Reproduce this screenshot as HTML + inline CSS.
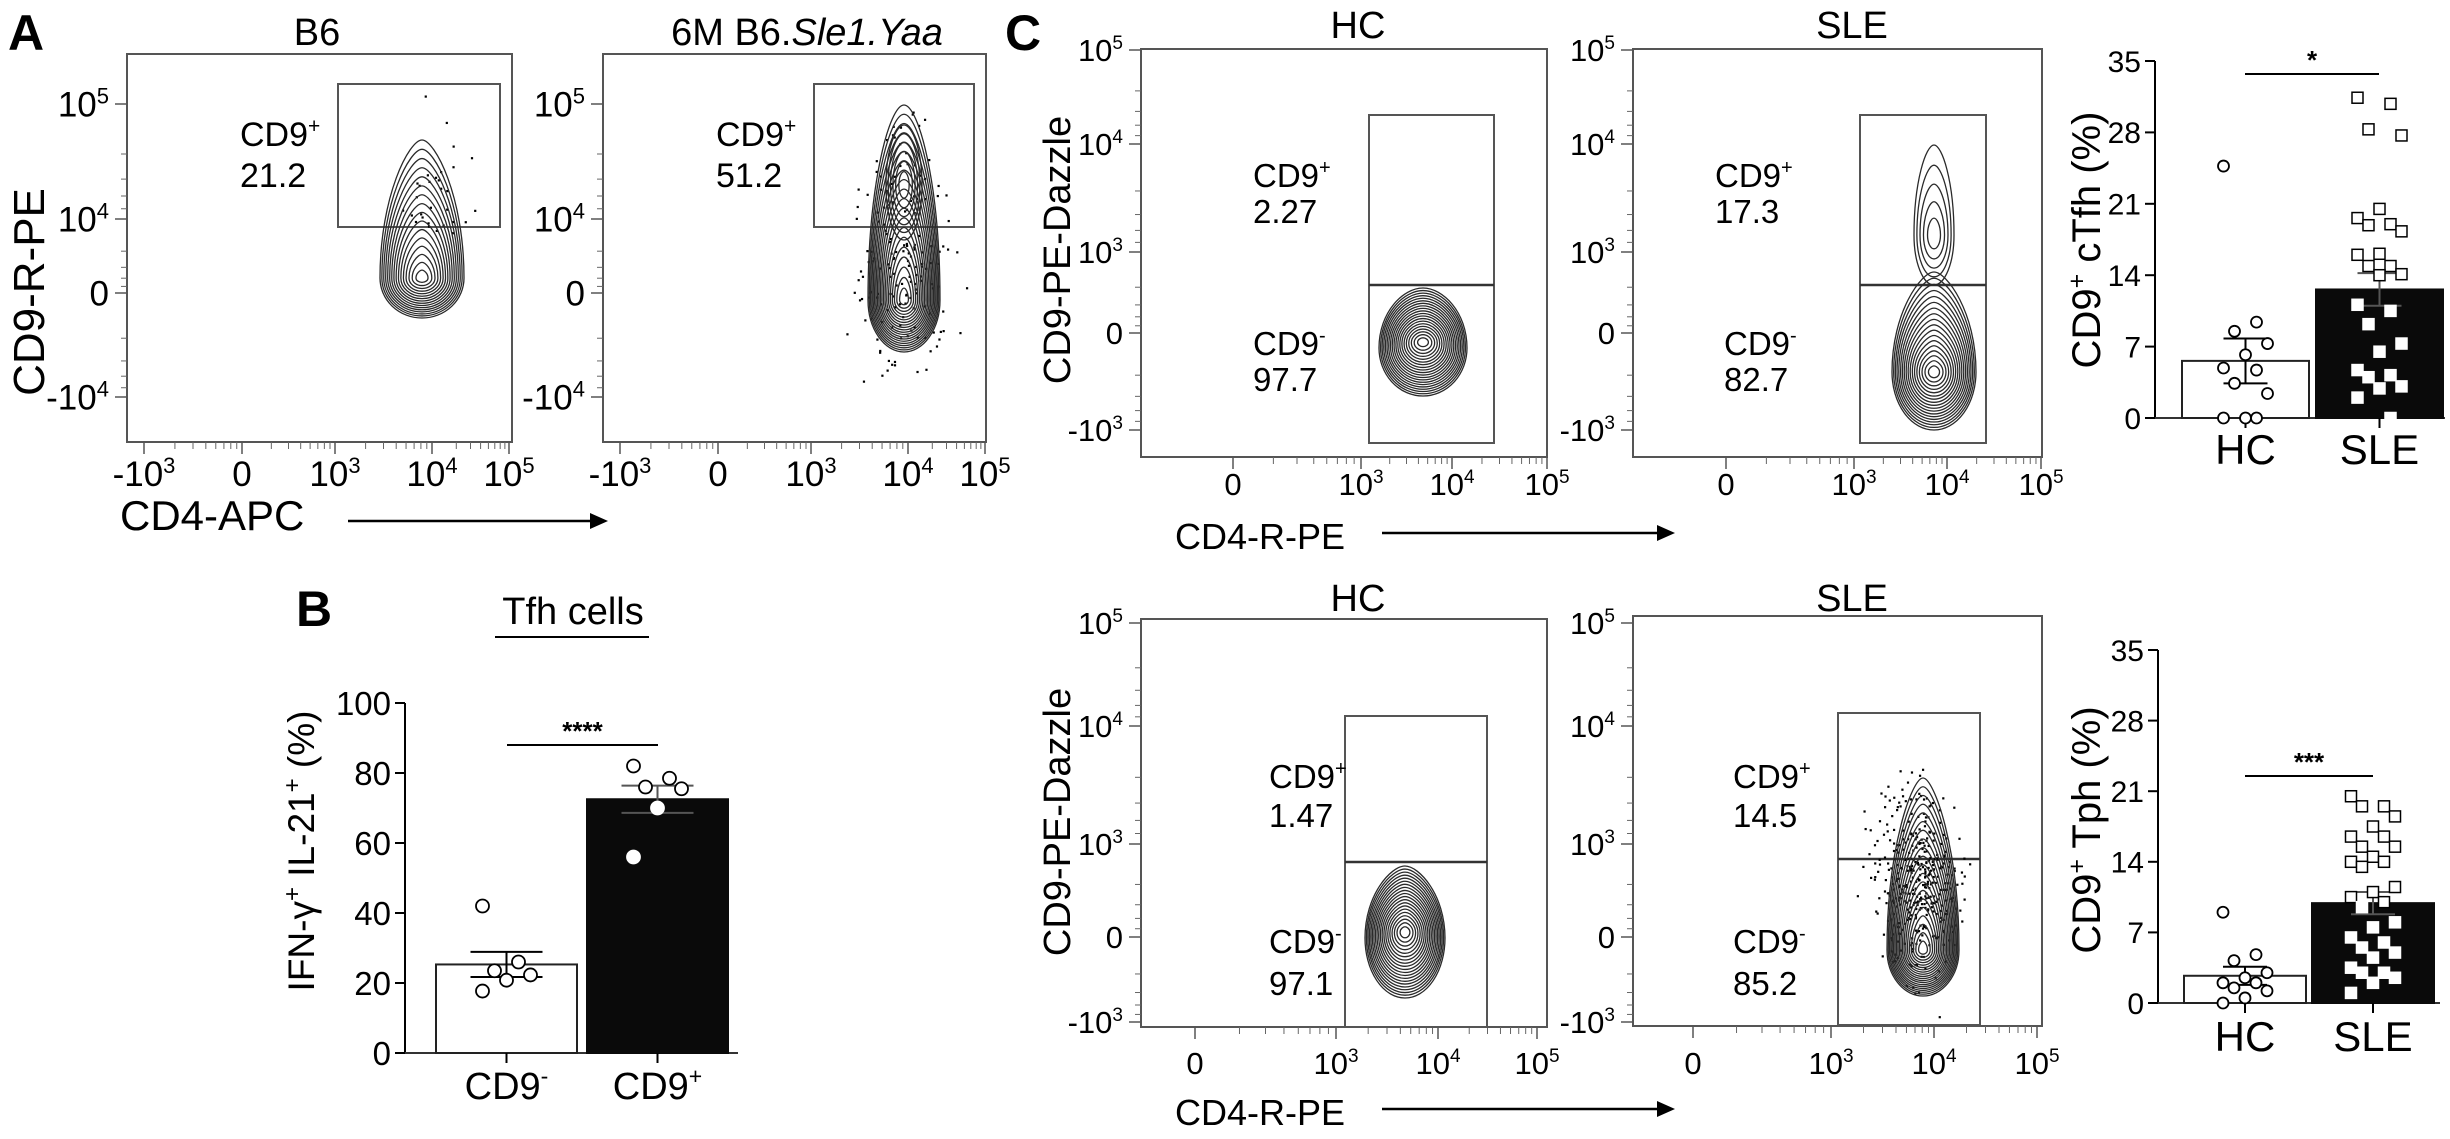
<!DOCTYPE html>
<html><head><meta charset="utf-8">
<style>
html,body{margin:0;padding:0;background:#fff;}
svg{display:block;font-family:"Liberation Sans",Arial,sans-serif;}
</style></head>
<body>
<svg id="fig" width="2450" height="1139" viewBox="0 0 2450 1139" xmlns="http://www.w3.org/2000/svg">
<rect x="0" y="0" width="2450" height="1139" fill="#fff"/>
<text x="8" y="50" font-size="50" font-weight="bold">A</text>
<text x="296" y="626" font-size="50" font-weight="bold">B</text>
<text x="1005" y="50" font-size="50" font-weight="bold">C</text>
<text x="317" y="45" font-size="38" text-anchor="middle">B6</text>
<text x="807" y="45" font-size="38" text-anchor="middle">6M B6.<tspan font-style="italic">Sle1.Yaa</tspan></text>
<text transform="translate(44,292) rotate(-90)" font-size="44" text-anchor="middle">CD9-R-PE</text>
<text x="120" y="530" font-size="42">CD4-APC</text>
<line x1="348" y1="521" x2="595" y2="521" stroke="#000" stroke-width="2.5"/>
<polygon points="608,521 590,513 590,529" fill="#000"/>
<text x="1358" y="38" font-size="38" text-anchor="middle">HC</text>
<text x="1852" y="38" font-size="38" text-anchor="middle">SLE</text>
<text x="1358" y="611" font-size="38" text-anchor="middle">HC</text>
<text x="1852" y="611" font-size="38" text-anchor="middle">SLE</text>
<text transform="translate(1070,250) rotate(-90)" font-size="38" text-anchor="middle">CD9-PE-Dazzle</text>
<text transform="translate(1070,822) rotate(-90)" font-size="38" text-anchor="middle">CD9-PE-Dazzle</text>
<text x="1175" y="549" font-size="36">CD4-R-PE</text>
<line x1="1382" y1="533" x2="1662" y2="533" stroke="#000" stroke-width="2.5"/>
<polygon points="1675,533 1657,525 1657,541" fill="#000"/>
<text x="1175" y="1125" font-size="36">CD4-R-PE</text>
<line x1="1382" y1="1109" x2="1662" y2="1109" stroke="#000" stroke-width="2.5"/>
<polygon points="1675,1109 1657,1101 1657,1117" fill="#000"/>
<text x="573" y="624" font-size="38" text-anchor="middle">Tfh cells</text>
<line x1="495" y1="637" x2="649" y2="637" stroke="#000" stroke-width="2"/>
<text transform="translate(314,851) rotate(-90)" font-size="37" text-anchor="middle">IFN-γ<tspan font-size="24" dy="-14">+</tspan><tspan dy="14"> IL-21</tspan><tspan font-size="24" dy="-14">+</tspan><tspan dy="14"> (%)</tspan></text>
<text transform="translate(2100,240) rotate(-90)" font-size="40" text-anchor="middle">CD9<tspan font-size="25" dy="-15">+</tspan><tspan dy="15"> cTfh (%)</tspan></text>
<text transform="translate(2100,830) rotate(-90)" font-size="40" text-anchor="middle">CD9<tspan font-size="25" dy="-15">+</tspan><tspan dy="15"> Tph (%)</tspan></text>
<g id="layer"></g>
</svg>
<script>
// ---------------- chart data ----------------
const bCategories = ["CD9-", "CD9+"];
const bMeans = [25.3, 72.5];
const bSem = [3.6, 3.9];
const bPointsNeg = [42, 26, 23.5, 22.3, 20.8, 17.7];
const bPointsPos = [82, 78.5, 76, 75.5, 70, 56];
const bTicks = [0, 20, 40, 60, 80, 100];

const cCategories = ["HC", "SLE"];
const cTicks = [0, 7, 14, 21, 28, 35];
const tfhMeans = [5.6, 12.6];
const tfhSem = [2.2, 1.6];
const tfhHC = [24.7, 9.4, 8.5, 7.3, 6.2, 4.9, 4.7, 3.4, 2.4, 0, 0, 0];
const tfhSLE = [31.4, 30.8, 28.3, 27.7, 20.5, 19.6, 19.0, 18.9, 18.3, 16.1, 16.0, 14.9, 14.9, 14.1, 14.0, 11.1, 10.5, 9.2, 7.3, 6.5, 4.7, 4.2, 4.0, 3.1, 2.9, 2.0, 0];
const tphMeans = [2.7, 9.9];
const tphSem = [0.9, 1.1];
const tphHC = [9, 4.8, 4.2, 3.0, 2.5, 2.0, 2.0, 1.5, 1.2, 0.5, 0];
const tphSLE = [20.5, 19.5, 19.5, 18.5, 17.5, 16.5, 16.5, 15.5, 15.5, 14.5, 14, 14, 13.5, 11.5, 11, 10.5, 10, 9.5, 8, 7.5, 6.5, 6, 5.5, 5, 4.5, 3.5, 3, 3, 2.5, 2, 1];

const gateA = ["21.2", "51.2"];
const gateCtopPos = ["2.27", "17.3"];
const gateCtopNeg = ["97.7", "82.7"];
const gateCbotPos = ["1.47", "14.5"];
const gateCbotNeg = ["97.1", "85.2"];

const NS = "http://www.w3.org/2000/svg";
const layer = document.getElementById("layer");
function mk(tag, attrs, parent, name) {
  const el = document.createElementNS(NS, tag);
  for (const k in attrs) el.setAttribute(k, attrs[k]);
  
  
  (parent || layer).appendChild(el);
  return el;
}
function supText(x, y, base, sup, size, anchor, name) {
  const t = mk("text", {x: x, y: y, "font-size": size, "text-anchor": anchor || "middle"}, layer, name);
  t.appendChild(document.createTextNode(base));
  if (sup) {
    const s = mk("tspan", {"font-size": Math.round(size * 0.62), dy: -Math.round(size * 0.38)}, t, name + "-sup");
    s.textContent = sup;
  }
  return t;
}
let seed = 7;
function rnd() { seed = (seed * 16807) % 2147483647; return (seed - 1) / 2147483646; }
function gauss() { return (rnd() + rnd() + rnd() + rnd() - 2) / 1.15; }

function flowPlot(o) {
  mk("rect", {x: o.x0, y: o.y0, width: o.x1 - o.x0, height: o.y1 - o.y0, fill: "none", stroke: "#555", "stroke-width": 2}, layer, o.id + "-frame");
  o.yt.forEach((t, i) => {
    mk("line", {x1: o.x0 - 12, x2: o.x0, y1: t.y, y2: t.y, stroke: "#555", "stroke-width": 1.5}, layer, o.id + "-ytick");
    supText(o.x0 - 18, t.y + o.fs * 0.36, t.b, t.s, o.fs, "end", o.id + "-ytick-label");
    if (i < o.yt.length - 1) {
      const n = o.yt[i + 1];
      for (let k = 1; k < 6; k++) {
        const yy = t.y + (n.y - t.y) * Math.log10(1 + k * 1.6) / Math.log10(9.0);
        mk("line", {x1: o.x0 - 6, x2: o.x0, y1: yy, y2: yy, stroke: "#666", "stroke-width": 1}, layer, o.id + "-ytick-minor");
      }
    }
  });
  o.xt.forEach((t, i) => {
    mk("line", {x1: t.x, x2: t.x, y1: o.y1, y2: o.y1 + 12, stroke: "#555", "stroke-width": 1.5}, layer, o.id + "-xtick");
    supText(t.x, o.xlab, t.b, t.s, o.fs, "middle", o.id + "-xtick-label");
    if (i < o.xt.length - 1) {
      const n = o.xt[i + 1];
      for (let k = 1; k < 8; k++) {
        const xx = t.x + (n.x - t.x) * Math.log10(1 + k) / Math.log10(9);
        mk("line", {x1: xx, x2: xx, y1: o.y1, y2: o.y1 + 7, stroke: "#666", "stroke-width": 1}, layer, o.id + "-xtick-minor");
      }
    }
  });
  mk("rect", {x: o.g[0], y: o.g[1], width: o.g[2] - o.g[0], height: o.g[3] - o.g[1], fill: "none", stroke: "#555", "stroke-width": 2}, layer, o.id + "-gate");
  if (o.div) mk("line", {x1: o.g[0], x2: o.g[2], y1: o.div, y2: o.div, stroke: "#333", "stroke-width": 2.5}, layer, o.id + "-gate-divider");
  (o.dots || []).forEach(d => {
    for (let i = 0; i < d.n; i++) {
      const x = d.cx + gauss() * d.sx, y = d.cy + gauss() * d.sy;
      mk("rect", {x: x, y: y, width: 2.2, height: 2.2, fill: "#000"}, layer, o.id + "-event");
    }
  });
  o.cont.forEach(c => {
    for (let k = 1; k <= c.n; k++) {
      const t = k / c.n;
      const rx = c.rx * Math.pow(t, 0.7), rd = c.rd * Math.pow(t, 0.8), ru = c.rd * Math.pow(t, 0.8) + (c.ru - c.rd) * Math.pow(t, c.p || 1.6);
      const cy = c.cy + (c.sh || 0) * (1 - t), cx = c.cx;
      const tp = c.tp || 0.45;
      const d = `M${cx - rx},${cy} C${cx - rx},${cy - ru * 0.6} ${cx - rx * tp},${cy - ru} ${cx},${cy - ru} C${cx + rx * tp},${cy - ru} ${cx + rx},${cy - ru * 0.6} ${cx + rx},${cy} A${rx},${rd} 0 0 1 ${cx - rx},${cy} Z`;
      mk("path", {d: d, fill: "none", stroke: "#2a2a2a", "stroke-width": 1.3}, layer, o.id + "-contour");
    }
  });
  o.labels.forEach(l => supText(l.x, l.y, l.b, l.s, o.lfs, "start", o.id + "-gate-label"));
}
const logA = [{b: "10", s: "5", y: 104}, {b: "10", s: "4", y: 219}, {b: "0", s: "", y: 293}, {b: "-10", s: "4", y: 397}];
function xA(off) { return [{b: "-10", s: "3", x: 144 + off}, {b: "0", s: "", x: 242 + off}, {b: "10", s: "3", x: 335 + off}, {b: "10", s: "4", x: 432 + off}, {b: "10", s: "5", x: 509 + off}]; }
flowPlot({id: "a-b6", x0: 127, x1: 512, y0: 54, y1: 442, yt: logA, xt: xA(0), fs: 35, lfs: 34, xlab: 486,
  g: [338, 84, 500, 227], labels: [{x: 240, y: 146, b: "CD9", s: "+"}, {x: 240, y: 187, b: gateA[0], s: ""}],
  cont: [{cx: 422, cy: 278, rx: 42, rd: 40, ru: 138, n: 16, p: 1.2, tp: 0.3}],
  dots: [{cx: 430, cy: 200, sx: 30, sy: 70, n: 30}]});
flowPlot({id: "a-sle", x0: 603, x1: 986, y0: 54, y1: 442, yt: logA, xt: xA(476), fs: 35, lfs: 34, xlab: 486,
  g: [814, 84, 974, 227], labels: [{x: 716, y: 146, b: "CD9", s: "+"}, {x: 716, y: 187, b: gateA[1], s: ""}],
  cont: [{cx: 904, cy: 300, rx: 36, rd: 52, ru: 195, n: 20, p: 1.0, tp: 0.4}, {cx: 904, cy: 185, rx: 18, rd: 55, ru: 60, n: 6}],
  dots: [{cx: 904, cy: 250, sx: 44, sy: 110, n: 160}]});

const logC1 = [{b: "10", s: "5", y: 50}, {b: "10", s: "4", y: 144}, {b: "10", s: "3", y: 252}, {b: "0", s: "", y: 333}, {b: "-10", s: "3", y: 430}];
const logC2 = [{b: "10", s: "5", y: 623}, {b: "10", s: "4", y: 726}, {b: "10", s: "3", y: 844}, {b: "0", s: "", y: 937}, {b: "-10", s: "3", y: 1022}];
function xC(a) { return [{b: "0", s: "", x: a[0]}, {b: "10", s: "3", x: a[1]}, {b: "10", s: "4", x: a[2]}, {b: "10", s: "5", x: a[3]}]; }
flowPlot({id: "c-top-hc", x0: 1141, x1: 1547, y0: 49, y1: 457, yt: logC1, xt: xC([1233, 1361, 1452, 1547]), fs: 31, lfs: 33, xlab: 495,
  g: [1369, 115, 1494, 443], div: 285,
  labels: [{x: 1253, y: 187, b: "CD9", s: "+"}, {x: 1253, y: 223, b: gateCtopPos[0], s: ""}, {x: 1253, y: 355, b: "CD9", s: "-"}, {x: 1253, y: 391, b: gateCtopNeg[0], s: ""}],
  cont: [{cx: 1423, cy: 348, rx: 44, rd: 48, ru: 60, n: 20, sh: -6}]});
flowPlot({id: "c-top-sle", x0: 1633, x1: 2042, y0: 49, y1: 457, yt: logC1, xt: xC([1726, 1854, 1947, 2041]), fs: 31, lfs: 33, xlab: 495,
  g: [1860, 115, 1986, 443], div: 285,
  labels: [{x: 1715, y: 187, b: "CD9", s: "+"}, {x: 1715, y: 223, b: gateCtopPos[1], s: ""}, {x: 1724, y: 355, b: "CD9", s: "-"}, {x: 1724, y: 391, b: gateCtopNeg[1], s: ""}],
  cont: [{cx: 1934, cy: 372, rx: 42, rd: 58, ru: 100, n: 18, tp: 0.3}, {cx: 1934, cy: 235, rx: 20, rd: 50, ru: 90, n: 5, tp: 0.4}]});
flowPlot({id: "c-bot-hc", x0: 1141, x1: 1547, y0: 619, y1: 1027, yt: logC2, xt: xC([1195, 1336, 1438, 1537]), fs: 31, lfs: 33, xlab: 1074,
  g: [1345, 716, 1487, 1027], div: 862,
  labels: [{x: 1269, y: 788, b: "CD9", s: "+"}, {x: 1269, y: 827, b: gateCbotPos[0], s: ""}, {x: 1269, y: 953, b: "CD9", s: "-"}, {x: 1269, y: 995, b: gateCbotNeg[0], s: ""}],
  cont: [{cx: 1405, cy: 938, rx: 40, rd: 60, ru: 72, n: 20, sh: -6, tp: 0.35}]});
flowPlot({id: "c-bot-sle", x0: 1633, x1: 2042, y0: 616, y1: 1026, yt: logC2, xt: xC([1693, 1831, 1934, 2037]), fs: 31, lfs: 33, xlab: 1074,
  g: [1838, 713, 1980, 1025], div: 859,
  labels: [{x: 1733, y: 788, b: "CD9", s: "+"}, {x: 1733, y: 827, b: gateCbotPos[1], s: ""}, {x: 1733, y: 953, b: "CD9", s: "-"}, {x: 1733, y: 995, b: gateCbotNeg[1], s: ""}],
  cont: [{cx: 1923, cy: 950, rx: 36, rd: 46, ru: 172, n: 20, p: 1.1, tp: 0.3}],
  dots: [{cx: 1915, cy: 880, sx: 42, sy: 95, n: 380}]});

function barChart(o) {
  const yv = v => o.yb - (v / o.max) * (o.yb - o.yt);
  mk("line", {x1: o.ax, x2: o.ax, y1: o.yt, y2: o.yb, stroke: "#000", "stroke-width": 2}, layer, o.id + "-y-axis");
  mk("line", {x1: o.ax - 10, x2: o.xEnd, y1: o.yb, y2: o.yb, stroke: "#333", "stroke-width": 2}, layer, o.id + "-x-axis");
  o.ticks.forEach(t => {
    mk("line", {x1: o.ax - 10, x2: o.ax, y1: yv(t), y2: yv(t), stroke: "#000", "stroke-width": 2}, layer, o.id + "-ytick");
    const tx = mk("text", {x: o.ax - 14, y: yv(t) + o.tfs * 0.36, "font-size": o.tfs, "text-anchor": "end"}, layer, o.id + "-ytick-label");
    tx.textContent = t;
  });
  o.cats.forEach((c, i) => {
    const x0 = o.bx[i], x1 = x0 + o.bw, cx = (x0 + x1) / 2;
    mk("rect", {x: x0, y: yv(o.means[i]), width: o.bw, height: o.yb - yv(o.means[i]), fill: i ? "#0a0a0a" : "#fff", stroke: i ? "#0a0a0a" : "#222", "stroke-width": 2}, layer, o.id + "-bar-" + c.toLowerCase().replace(/[^a-z0-9]/g, ""));
    mk("line", {x1: cx, x2: cx, y1: o.yb, y2: o.yb + 10, stroke: "#000", "stroke-width": 2}, layer, o.id + "-xtick");
    const lab = mk("text", {x: cx, y: o.labY, "font-size": o.lfs, "text-anchor": "middle"}, layer, o.id + "-xtick-label");
    if (o.sup) {
      lab.appendChild(document.createTextNode(c.slice(0, -1)));
      const s = mk("tspan", {"font-size": Math.round(o.lfs * 0.6), dy: -Math.round(o.lfs * 0.4)}, lab, o.id + "-xtick-sup");
      s.textContent = c.slice(-1);
    } else lab.textContent = c;
    const col = i ? "#555" : "#000";
    const hi = yv(o.means[i] + o.sem[i]), lo = yv(o.means[i] - o.sem[i]);
    mk("line", {x1: cx, x2: cx, y1: hi, y2: lo, stroke: col, "stroke-width": 2}, layer, o.id + "-error-bar");
    mk("line", {x1: cx - o.cap, x2: cx + o.cap, y1: hi, y2: hi, stroke: col, "stroke-width": 2}, layer, o.id + "-error-cap");
    mk("line", {x1: cx - o.cap, x2: cx + o.cap, y1: lo, y2: lo, stroke: col, "stroke-width": 2}, layer, o.id + "-error-cap");
    o.pts[i].forEach((v, j) => {
      const off = ((j * 3) % 5 - 2) * o.jit;
      const y = yv(v);
      const inside = i === 1 && v < o.means[i];
      if (o.square && i === 1) {
        mk("rect", {x: cx + off - o.r, y: y - o.r, width: o.r * 2, height: o.r * 2, fill: "#fff", stroke: inside ? "#fff" : "#000", "stroke-width": 1.5}, layer, o.id + "-point");
      } else {
        mk("circle", {cx: cx + off, cy: y, r: o.r, fill: "#fff", stroke: inside ? "#fff" : "#000", "stroke-width": 1.8}, layer, o.id + "-point");
      }
    });
  });
  mk("line", {x1: o.sig[0], x2: o.sig[1], y1: o.sig[2], y2: o.sig[2], stroke: "#000", "stroke-width": 2}, layer, o.id + "-significance-line");
  const st = mk("text", {x: (o.sig[0] + o.sig[1]) / 2, y: o.sig[2] - 5, "font-size": 26, "font-weight": "bold", "text-anchor": "middle"}, layer, o.id + "-significance-stars");
  st.textContent = o.stars;
}
barChart({id: "b", ax: 405, yt: 703, yb: 1053, max: 100, xEnd: 738, ticks: bTicks, tfs: 33, cats: bCategories, bx: [436, 587], bw: 141,
  means: bMeans, sem: bSem, pts: [bPointsNeg, bPointsPos], r: 6.5, jit: 12, cap: 36, labY: 1099, lfs: 38, sup: true,
  sig: [507, 658, 745], stars: "****"});
barChart({id: "c-tfh", ax: 2155, yt: 61, yb: 418, max: 35, xEnd: 2445, ticks: cTicks, tfs: 30, cats: cCategories, bx: [2182, 2316], bw: 127,
  means: tfhMeans, sem: tfhSem, pts: [tfhHC, tfhSLE], r: 5.5, jit: 11, square: true, cap: 22, labY: 464, lfs: 42,
  sig: [2245, 2379, 74], stars: "*"});
barChart({id: "c-tph", ax: 2158, yt: 650, yb: 1003, max: 35, xEnd: 2440, ticks: cTicks, tfs: 30, cats: cCategories, bx: [2184, 2312], bw: 122,
  means: tphMeans, sem: tphSem, pts: [tphHC, tphSLE], r: 5.5, jit: 11, square: true, cap: 22, labY: 1051, lfs: 42,
  sig: [2245, 2373, 776], stars: "***"});
</script>
</body></html>
